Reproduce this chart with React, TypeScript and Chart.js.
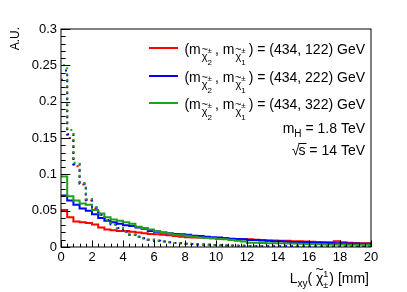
import React, { useEffect, useRef } from "react";
import { Chart, registerables } from "chart.js";

Chart.register(...registerables);

// ---------- data ----------
const BIN_WIDTH = 0.4; // mm
const X_MIN = 0;
const X_MAX = 20;
const Y_MAX = 0.3;

// solid histograms (50 bins of 0.4 mm, 0 - 20 mm)
const solidRed = [
  0.051, 0.041, 0.035, 0.034, 0.033, 0.031, 0.027, 0.024, 0.023, 0.022,
  0.022, 0.021, 0.020, 0.019, 0.018, 0.0175, 0.017, 0.016, 0.015, 0.014,
  0.0135, 0.013, 0.013, 0.0125, 0.012, 0.0125, 0.012, 0.011, 0.011, 0.0105,
  0.0105, 0.010, 0.0095, 0.009, 0.009, 0.0085, 0.0085, 0.008, 0.0078, 0.0075,
  0.0072, 0.007, 0.0065, 0.0065, 0.0078, 0.0065, 0.006, 0.0055, 0.0052, 0.005,
];
const solidBlue = [
  0.071, 0.064, 0.058, 0.053, 0.050, 0.045, 0.040, 0.036, 0.034, 0.032,
  0.030, 0.029, 0.027, 0.025, 0.022, 0.021, 0.020, 0.019, 0.018, 0.0175,
  0.017, 0.0155, 0.015, 0.014, 0.0135, 0.013, 0.012, 0.0115, 0.011, 0.0105,
  0.0097, 0.0095, 0.009, 0.0085, 0.008, 0.0078, 0.0072, 0.007, 0.0068, 0.0065,
  0.0062, 0.006, 0.0058, 0.0055, 0.0052, 0.005, 0.0048, 0.0047, 0.0045, 0.0045,
];
const solidGreen = [
  0.097, 0.070, 0.064, 0.060, 0.058, 0.051, 0.046, 0.041, 0.038, 0.036,
  0.034, 0.032, 0.028, 0.026, 0.024, 0.022, 0.020, 0.019, 0.017, 0.016,
  0.0155, 0.014, 0.013, 0.0125, 0.012, 0.011, 0.0105, 0.0095, 0.0085, 0.0075,
  0.006, 0.0058, 0.0055, 0.0053, 0.005, 0.005, 0.0048, 0.0047, 0.0045, 0.0043,
  0.004, 0.0038, 0.0036, 0.0035, 0.0034, 0.0033, 0.0032, 0.003, 0.003, 0.003,
];

// dashed histograms (steeply falling)
const dashedRed = [
  0.230, 0.150, 0.111, 0.086, 0.064, 0.053, 0.044, 0.037, 0.031, 0.026,
  0.021, 0.017, 0.014, 0.012, 0.010, 0.0085, 0.0075, 0.0065, 0.0055, 0.005,
  0.0045, 0.004, 0.0035, 0.003, 0.0028, 0.0025, 0.0022, 0.002, 0.0018, 0.0016,
  0.0015, 0.0013, 0.0012, 0.0011, 0.001, 0.001, 0.0009, 0.0009, 0.0008, 0.0008,
  0.0007, 0.0007, 0.0007, 0.0006, 0.0006, 0.0006, 0.0005, 0.0005, 0.0005, 0.0005,
];
const dashedBlue = [
  0.243, 0.155, 0.114, 0.087, 0.065, 0.054, 0.044, 0.037, 0.031, 0.026,
  0.021, 0.017, 0.014, 0.012, 0.010, 0.0085, 0.0075, 0.0065, 0.0055, 0.005,
  0.0045, 0.004, 0.0035, 0.003, 0.0028, 0.0025, 0.0022, 0.002, 0.0018, 0.0016,
  0.0015, 0.0013, 0.0012, 0.0011, 0.001, 0.001, 0.0009, 0.0009, 0.0008, 0.0008,
  0.0007, 0.0007, 0.0007, 0.0006, 0.0006, 0.0006, 0.0005, 0.0005, 0.0005, 0.0005,
];
const dashedGreen = [
  0.250, 0.161, 0.116, 0.088, 0.066, 0.055, 0.044, 0.037, 0.031, 0.026,
  0.021, 0.017, 0.014, 0.012, 0.010, 0.0085, 0.0075, 0.0065, 0.0055, 0.005,
  0.0045, 0.004, 0.0035, 0.003, 0.0028, 0.0025, 0.0022, 0.002, 0.0018, 0.0016,
  0.0015, 0.0013, 0.0012, 0.0011, 0.001, 0.001, 0.0009, 0.0009, 0.0008, 0.0008,
  0.0007, 0.0007, 0.0007, 0.0006, 0.0006, 0.0006, 0.0005, 0.0005, 0.0005, 0.0005,
];

const massPairs = ["(434, 122) GeV", "(434, 222) GeV", "(434, 322) GeV"];
const mHText = " = 1.8 TeV";
const sqrtSText = " = 14 TeV";

const RED = "#ff0000";
const BLUE = "#0000ff";
const GREEN = "#1fa01f";
const FONT = "'Liberation Sans', Arial, sans-serif";

function toSteps(vals: number[]) {
  const pts = vals.map((v, i) => ({ x: X_MIN + i * BIN_WIDTH, y: v }));
  pts.push({ x: X_MAX, y: vals[vals.length - 1] });
  return pts;
}

type Seg =
  | { t: string; s: number; dy?: number; tilde?: boolean; pad?: number }
  | { sup: string; sub: string; s: number; supDy: number; subDy: number; pad?: number };

function segWidth(ctx: CanvasRenderingContext2D, g: Seg) {
  ctx.font = `${g.s}px ${FONT}`;
  if ("t" in g) return ctx.measureText(g.t).width + (g.pad || 0);
  return Math.max(ctx.measureText(g.sup).width, ctx.measureText(g.sub).width) + (g.pad || 0);
}

function drawRich(ctx: CanvasRenderingContext2D, xRight: number, y: number, segs: Seg[]) {
  const total = segs.reduce((a, g) => a + segWidth(ctx, g), 0);
  let x = xRight - total;
  ctx.textAlign = "left";
  ctx.textBaseline = "alphabetic";
  ctx.fillStyle = "#000";
  for (const g of segs) {
    const w = segWidth(ctx, g);
    ctx.font = `${g.s}px ${FONT}`;
    if ("t" in g) {
      const yy = y + (g.dy || 0);
      ctx.fillText(g.t, x, yy);
      if (g.tilde) {
        const cw = ctx.measureText(g.t).width;
        ctx.fillText("~", x + (cw - ctx.measureText("~").width) / 2, yy - g.s * 0.62);
      }
    } else {
      ctx.fillText(g.sup, x, y + g.supDy);
      ctx.fillText(g.sub, x, y + g.subDy);
    }
    x += w;
  }
}

const framePlugin = {
  id: "rootFrame",
  afterDraw(chart: any) {
    const ctx: CanvasRenderingContext2D = chart.ctx;
    const { left, right, top, bottom } = chart.chartArea;
    const xs = chart.scales.x;
    const ys = chart.scales.y;
    ctx.save();
    ctx.strokeStyle = "#000";
    ctx.lineWidth = 1;
    ctx.strokeRect(left, top, right - left, bottom - top);
    // x ticks
    const xMajor = (bottom - top) * 0.03;
    ctx.beginPath();
    for (let i = 0; i <= 50; i++) {
      const v = i * 0.4;
      const px = Math.round(xs.getPixelForValue(v)) + 0.5;
      const len = i % 5 === 0 ? xMajor : xMajor / 2;
      ctx.moveTo(px, bottom);
      ctx.lineTo(px, bottom - len);
    }
    // y ticks
    const yMajor = (right - left) * 0.03;
    for (let i = 0; i <= 30; i++) {
      const v = i * 0.01;
      const py = Math.round(ys.getPixelForValue(v)) + 0.5;
      const len = i % 5 === 0 ? yMajor : yMajor / 2;
      ctx.moveTo(left, py);
      ctx.lineTo(left + len, py);
    }
    ctx.stroke();

    // legend
    const colors = [RED, BLUE, GREEN];
    const rowsY = [48, 76, 103];
    const textRight = 365;
    colors.forEach((c, k) => {
      const yc = rowsY[k];
      ctx.strokeStyle = c;
      ctx.lineWidth = 2;
      ctx.beginPath();
      ctx.moveTo(149, yc);
      ctx.lineTo(178, yc);
      ctx.stroke();
      drawRich(ctx, textRight, yc + 6, [
        { t: "(m", s: 14, pad: 1 },
        { t: "\u03C7", s: 11, dy: 6, tilde: true },
        { sup: "\u00B1", sub: "2", s: 8, supDy: -1, subDy: 11, pad: 3 },
        { t: ", m", s: 14, pad: 1 },
        { t: "\u03C7", s: 11, dy: 6, tilde: true },
        { sup: "\u00B1", sub: "1", s: 8, supDy: -1, subDy: 11, pad: 3 },
        { t: ") = " + massPairs[k], s: 14 },
      ]);
    });
    drawRich(ctx, textRight, 133, [
      { t: "m", s: 14 },
      { t: "H", s: 10, dy: 4 },
      { t: mHText, s: 14 },
    ]);
    // sqrt(s)
    ctx.font = `14px ${FONT}`;
    const restW = ctx.measureText(sqrtSText).width;
    const sW = ctx.measureText("s").width;
    const rootW = ctx.measureText("\u221A").width;
    const xs0 = textRight - restW - sW;
    ctx.fillStyle = "#000";
    ctx.textAlign = "left";
    ctx.fillText(sqrtSText, textRight - restW, 155);
    ctx.fillText("s", xs0, 155);
    ctx.fillText("\u221A", xs0 - rootW + 1, 155);
    ctx.strokeStyle = "#000";
    ctx.lineWidth = 1;
    ctx.beginPath();
    ctx.moveTo(xs0, 143.5);
    ctx.lineTo(xs0 + sW + 1, 143.5);
    ctx.stroke();

    // x-axis title
    drawRich(ctx, 369, 283, [
      { t: "L", s: 14 },
      { t: "xy", s: 10, dy: 4 },
      { t: "( ", s: 14 },
      { t: "\u03C7", s: 14, tilde: true },
      { sup: "1", sub: "\u00B1", s: 9, supDy: -6, subDy: 5, pad: 1 },
      { t: ") [mm]", s: 14 },
    ]);

    // y-axis title
    ctx.save();
    ctx.translate(19, 27);
    ctx.rotate(-Math.PI / 2);
    ctx.font = `12px ${FONT}`;
    ctx.textAlign = "right";
    ctx.textBaseline = "alphabetic";
    ctx.fillStyle = "#000";
    ctx.fillText("A.U.", 0, 0);
    ctx.restore();

    ctx.restore();
  },
};

export default function App() {
  const ref = useRef<HTMLCanvasElement | null>(null);
  useEffect(() => {
    document.body.style.margin = "0";
    const canvas = ref.current!;
    const mk = (label: string, vals: number[], color: string, dash: number[], offset: number) => ({
      label,
      data: toSteps(vals),
      borderColor: color,
      backgroundColor: color,
      borderWidth: 2,
      borderDash: dash,
      borderDashOffset: offset,
      pointRadius: 0,
      stepped: "before" as const,
      fill: false,
    });
    const chart = new Chart(canvas, {
      type: "line",
      data: {
        datasets: [
          mk("dashed green", dashedGreen, GREEN, [2, 4], 4),
          mk("dashed blue", dashedBlue, BLUE, [2, 4], 2),
          mk("dashed red", dashedRed, RED, [2, 4], 0),
          mk("green", solidGreen, GREEN, [], 0),
          mk("blue", solidBlue, BLUE, [], 0),
          mk("red", solidRed, RED, [], 0),
        ],
      },
      options: {
        animation: false,
        responsive: false,
        devicePixelRatio: 1,
        layout: { padding: { top: 29, right: 36, left: 0, bottom: 0 } },
        plugins: { legend: { display: false }, tooltip: { enabled: false } },
        scales: {
          x: {
            type: "linear",
            min: X_MIN,
            max: X_MAX,
            grid: { display: false, drawTicks: false },
            border: { display: false },
            ticks: {
              stepSize: 2,
              padding: 3,
              color: "#000",
              font: { family: FONT, size: 13 },
              maxRotation: 0,
            },
            afterFit: (s: any) => {
              s.height = 45;
            },
          },
          y: {
            type: "linear",
            min: 0,
            max: Y_MAX,
            grid: { display: false, drawTicks: false },
            border: { display: false },
            ticks: {
              stepSize: 0.05,
              padding: 4,
              color: "#000",
              font: { family: FONT, size: 13 },
              callback: (v: any) => String(+Number(v).toFixed(2)),
            },
            afterFit: (s: any) => {
              s.width = 61;
            },
          },
        },
      },
      plugins: [framePlugin],
    });
    return () => chart.destroy();
  }, []);
  return <canvas ref={ref} width={407} height={292} style={{ display: "block" }} />;
}
